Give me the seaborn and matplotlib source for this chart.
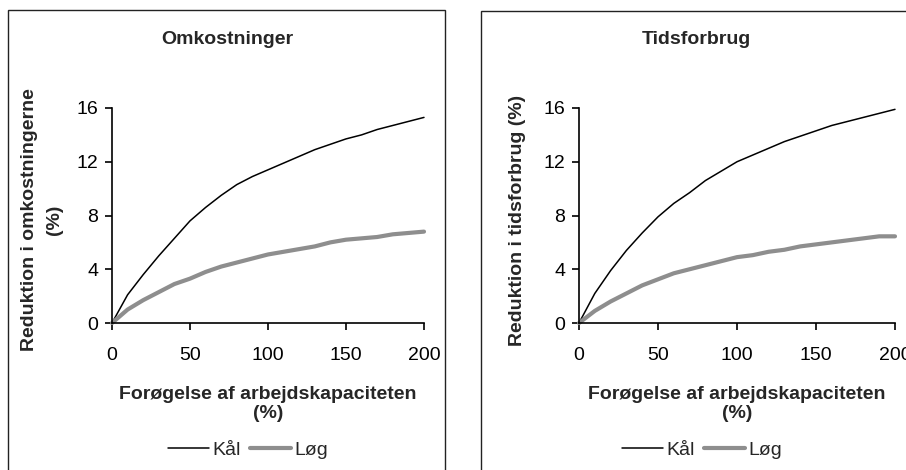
import numpy as np
import pandas as pd
import matplotlib
matplotlib.use("Agg")
import matplotlib.pyplot as plt
import seaborn as sns
from matplotlib.patches import Rectangle
from matplotlib.lines import Line2D

# ---- data ----
x_vals = [0, 10, 20, 30, 40, 50, 60, 70, 80, 90, 100, 110, 120, 130, 140, 150, 160, 170, 180, 190, 200]
omk_kaal = [0, 2.1, 3.6, 5.0, 6.3, 7.6, 8.6, 9.5, 10.3, 10.9, 11.4, 11.9, 12.4, 12.9, 13.3, 13.7, 14.0, 14.4, 14.7, 15.0, 15.3]
omk_loeg = [0, 1.0, 1.7, 2.3, 2.9, 3.3, 3.8, 4.2, 4.5, 4.8, 5.1, 5.3, 5.5, 5.7, 6.0, 6.2, 6.3, 6.4, 6.6, 6.7, 6.8]
tid_kaal = [0, 2.2, 3.9, 5.4, 6.7, 7.9, 8.9, 9.7, 10.6, 11.3, 12.0, 12.5, 13.0, 13.5, 13.9, 14.3, 14.7, 15.0, 15.3, 15.6, 15.9]
tid_loeg = [0, 0.9, 1.6, 2.2, 2.8, 3.25, 3.7, 4.0, 4.3, 4.6, 4.9, 5.05, 5.3, 5.45, 5.7, 5.85, 6.0, 6.15, 6.3, 6.45, 6.45]
series_names = ["Kål", "Løg"]
titles = ["Omkostninger", "Tidsforbrug"]
ylabels = ["Reduktion i omkostningerne\n(%)", "Reduktion i tidsforbrug (%)"]
xlabel = "Forøgelse af arbejdskapaciteten\n(%)"
xticks = [0, 50, 100, 150, 200]
yticks = [0, 4, 8, 12, 16]

sns.set_style("white")
plt.rcParams['font.family'] = ['Liberation Sans', 'DejaVu Sans']

fig = plt.figure(figsize=(9.06, 4.70), dpi=100)
W, H = 906, 470

def fx(px):
    return px / W

def fy(py):
    return 1 - py / H

# frames
fig.patches.append(Rectangle((fx(8), fy(475)), fx(445 - 8), fy(10) - fy(475),
                             transform=fig.transFigure, fill=False, edgecolor="#222222", lw=1.0))
fig.patches.append(Rectangle((fx(481), fy(475)), fx(940 - 481), fy(11) - fy(475),
                             transform=fig.transFigure, fill=False, edgecolor="#222222", lw=1.0))

palette = {"Kål": "black", "Løg": "#8e8e8e"}
sizes = {"Kål": 1.1, "Løg": 3.0}

panels = [
    dict(kaal=omk_kaal, loeg=omk_loeg, left=112, right=424, title_x=227),
    dict(kaal=tid_kaal, loeg=tid_loeg, left=579, right=895, title_x=696),
]

BOLD = 14

for i, p in enumerate(panels):
    ax = fig.add_axes([fx(p["left"]), fy(323), fx(p["right"] - p["left"]), fy(108) - fy(323)])
    df = pd.DataFrame({
        "x": x_vals * 2,
        "y": p["kaal"] + p["loeg"],
        "serie": ["Kål"] * len(x_vals) + ["Løg"] * len(x_vals),
    })
    for name in series_names:
        sub = df[df["serie"] == name]
        sns.lineplot(data=sub, x="x", y="y", ax=ax, color=palette[name],
                     linewidth=sizes[name], legend=False, clip_on=False)
    ax.set_xlim(0, 200)
    ax.set_ylim(0, 16)
    ax.set_xticks(xticks)
    ax.set_yticks(yticks)
    for s in ["top", "right"]:
        ax.spines[s].set_visible(False)
    for s in ["left", "bottom"]:
        ax.spines[s].set_color("black")
        ax.spines[s].set_linewidth(1.2)
    ax.tick_params(axis="both", direction="out", length=5, width=1.2, color="black",
                   labelsize=14, labelcolor="black", bottom=True, left=True)
    ax.tick_params(axis="x", pad=12)
    ax.tick_params(axis="y", pad=5)
    ax.set_xlabel("")
    ax.set_ylabel("")
    # x label
    fig.text(fx((p["left"] + p["right"]) / 2), fy(404), xlabel, ha="center", va="center",
             fontsize=BOLD, fontweight="bold", linespacing=1.1)
    # title
    fig.text(fx(p["title_x"]), fy(40), titles[i], ha="center", va="center",
             fontsize=BOLD, fontweight="bold")

# y labels
fig.text(fx(42), fy(220), ylabels[0], ha="center", va="center", rotation=90,
         fontsize=BOLD, fontweight="bold", linespacing=1.55)
fig.text(fx(518), fy(220), ylabels[1], ha="center", va="center", rotation=90,
         fontsize=BOLD, fontweight="bold")

# legends
handles = [Line2D([], [], color=palette[n], lw=sizes[n]) for n in series_names]
for cx in [248, 702]:
    fig.legend(handles, series_names, loc="center", bbox_to_anchor=(fx(cx), fy(450)),
               ncol=2, frameon=False, fontsize=14, handlelength=2.1, handletextpad=0.15,
               columnspacing=0.5, borderpad=0, borderaxespad=0)

fig.savefig("out.png", dpi=100)
